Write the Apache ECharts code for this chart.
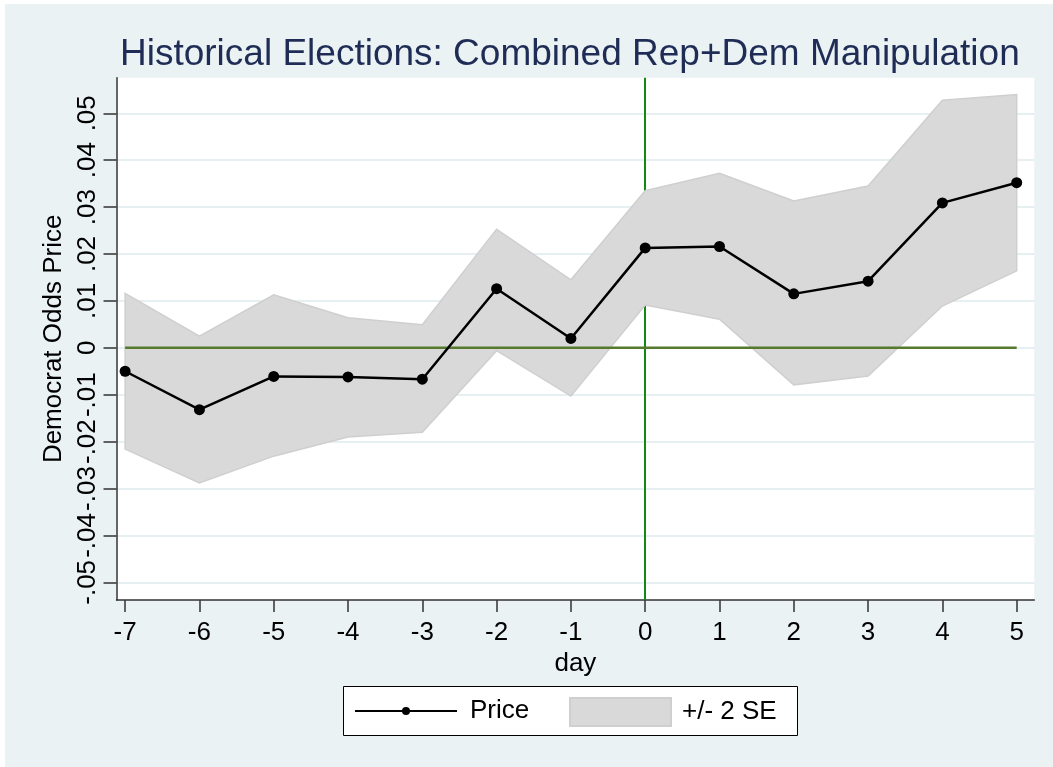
<!DOCTYPE html>
<html>
<head>
<meta charset="utf-8">
<script src="https://cdn.jsdelivr.net/npm/echarts@6/dist/echarts.min.js"></script>
<style>
  html, body { margin: 0; padding: 0; background: #fff; }
  #main { width: 1053px; height: 767px; }
</style>
</head>
<body>
<div id="main"></div>
<script>
  // values
  var days = [-7, -6, -5, -4, -3, -2, -1, 0, 1, 2, 3, 4, 5];
  var price = [-0.0050, -0.0132, -0.0061, -0.0062, -0.0067, 0.0126, 0.0020, 0.0213, 0.0216, 0.0115, 0.0142, 0.0309, 0.0352];
  var upper = [0.0116, 0.0025, 0.0113, 0.0064, 0.0049, 0.0253, 0.0145, 0.0335, 0.0372, 0.0313, 0.0345, 0.0528, 0.0540];
  var lower = [-0.0216, -0.0288, -0.0231, -0.0190, -0.0180, -0.0006, -0.0103, 0.0091, 0.0061, -0.0079, -0.0060, 0.0089, 0.0164];
  var yTicks = [-0.05, -0.04, -0.03, -0.02, -0.01, 0, 0.01, 0.02, 0.03, 0.04, 0.05];
  var yTickLabels = ['-.05', '-.04', '-.03', '-.02', '-.01', '0', '.01', '.02', '.03', '.04', '.05'];

  var FONT = "'Liberation Sans', Arial, sans-serif";

  var myCharts = echarts.init(document.getElementById('main'));

  var pricePts = days.map(function (d, i) { return [d, price[i]]; });
  var bandRows = days.map(function (d, i) { return [d, lower[i], upper[i]]; });

  // whole band drawn as one polygon through the axis scales
  function renderBand(params, api) {
    if (params.dataIndex !== 0) return null;
    var top = [], bottom = [];
    for (var i = 0; i < days.length; i++) {
      top.push(api.coord([days[i], upper[i]]));
      bottom.push(api.coord([days[i], lower[i]]));
    }
    return {
      type: 'polygon',
      shape: { points: top.concat(bottom.reverse()) },
      style: { fill: '#d9d9d9', stroke: '#cfcfcf', lineWidth: 1.5 }
    };
  }

  var option = {
    backgroundColor: '#fff',
    animation: false,
    textStyle: { fontFamily: FONT },
    graphic: [
      { type: 'rect', z: -10, shape: { x: 5, y: 4, width: 1048, height: 763 }, style: { fill: '#eaf2f3' } },
      { type: 'rect', z: 1, shape: { x: 343.5, y: 686.5, width: 454, height: 49 }, style: { fill: '#fff', stroke: '#000', lineWidth: 1 } }
    ],
    title: {
      text: 'Historical Elections: Combined Rep+Dem Manipulation',
      left: 120,
      top: 36,
      padding: 0,
      textStyle: { fontFamily: FONT, fontSize: 37, fontWeight: 'normal', color: '#1f2d56' }
    },
    legend: [{
      data: ['Price'],
      left: 354,
      top: 698,
      padding: 0,
      itemWidth: 102,
      itemHeight: 10,
      itemGap: 0,
      z: 5,
      textStyle: { fontFamily: FONT, fontSize: 26, color: '#000', padding: [0, 0, 0, 8] }
    }, {
      data: [{ name: '+/- 2 SE', icon: 'rect' }],
      left: 569,
      top: 697,
      padding: 0,
      itemWidth: 101,
      itemHeight: 28,
      z: 5,
      textStyle: { fontFamily: FONT, fontSize: 26, color: '#000', padding: [0, 0, 0, 6] }
    }],
    grid: {
      left: 116.5,
      right: 18.7,
      top: 77.7,
      bottom: 167,
      show: true,
      backgroundColor: '#fff',
      borderWidth: 0
    },
    xAxis: {
      type: 'value',
      min: -7.116,
      max: 5.237,
      name: 'day',
      nameLocation: 'middle',
      nameGap: 50,
      nameTextStyle: { fontFamily: FONT, fontSize: 26, color: '#000' },
      axisLine: { onZero: false, lineStyle: { color: '#333', width: 1.5 } },
      axisTick: { customValues: days, length: 12, lineStyle: { color: '#333', width: 1.5 } },
      axisLabel: { customValues: days, margin: 20, fontFamily: FONT, fontSize: 26, color: '#000' },
      splitLine: { show: false }
    },
    yAxis: {
      type: 'value',
      min: -0.05377,
      max: 0.05759,
      name: 'Democrat Odds Price',
      nameLocation: 'middle',
      nameGap: 50,
      nameTextStyle: { fontFamily: FONT, fontSize: 26, color: '#000' },
      axisLine: { show: true, onZero: false, lineStyle: { color: '#333', width: 1.5 } },
      axisTick: { show: true, customValues: yTicks, length: 13, lineStyle: { color: '#333', width: 1.5 } },
      axisLabel: {
        customValues: yTicks,
        rotate: 90,
        margin: 16,
        fontFamily: FONT,
        fontSize: 26,
        color: '#000',
        formatter: function (v) {
          for (var i = 0; i < yTicks.length; i++) {
            if (Math.abs(yTicks[i] - v) < 1e-9) return yTickLabels[i];
          }
          return '';
        }
      },
      splitLine: { show: true, lineStyle: { color: '#e6eff1', width: 2 } }
    },
    series: [{
      name: 'vline',
      type: 'line',
      z: 1,
      data: [],
      silent: true,
      markLine: {
        z: 1,
        silent: true,
        symbol: 'none',
        label: { show: false },
        lineStyle: { color: '#108a10', width: 2, type: 'solid' },
        data: [{ xAxis: 0 }]
      }
    }, {
      name: '+/- 2 SE',
      type: 'custom',
      z: 2,
      silent: true,
      data: bandRows,
      encode: { x: 0, y: [1, 2] },
      renderItem: renderBand,
      itemStyle: { color: '#d9d9d9', borderColor: '#cfcfcf', borderWidth: 1 }
    }, {
      name: 'zero',
      type: 'line',
      z: 3,
      data: [[days[0], 0], [days[days.length - 1], 0]],
      symbol: 'none',
      silent: true,
      lineStyle: { color: '#557a2e', width: 2.5 }
    }, {
      name: 'Price',
      type: 'line',
      z: 4,
      data: pricePts,
      symbol: 'circle',
      symbolSize: 11,
      itemStyle: { color: '#000' },
      lineStyle: { color: '#000', width: 2.5 }
    }]
  };
  myCharts.setOption(option);
</script>
</body>
</html>
